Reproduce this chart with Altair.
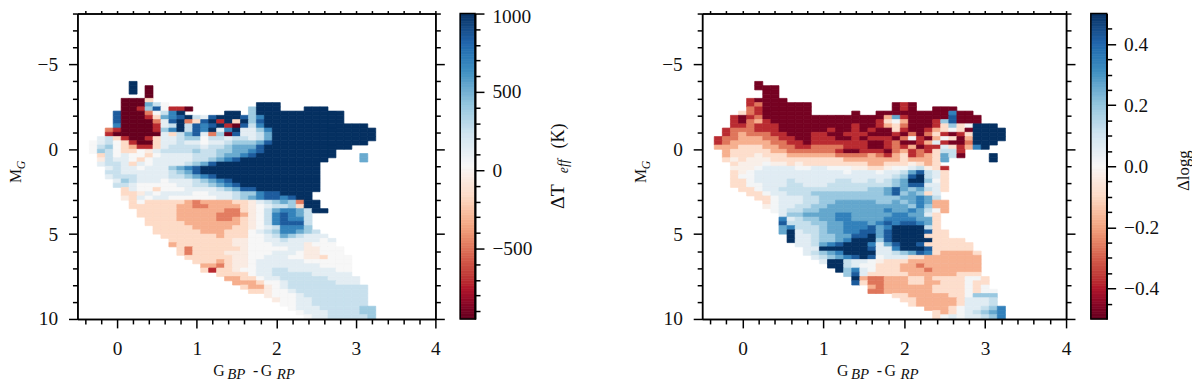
import altair as alt
import pandas as pd

FONT = "Liberation Serif"
COL_START, COL_STEP = -0.3, 0.1
ROW_START, ROW_STEP = -4.0, 0.25
RDBU = ["#67001f", "#b2182b", "#d6604d", "#f4a582", "#fddbc7", "#f7f7f7",
        "#d1e5f0", "#92c5de", "#4393c3", "#2166ac", "#053061"]

TEFF_LEVELS = {"A": -950, "B": -720, "C": -480, "D": -330, "E": -170, "F": -60, "0": 25,
               "1": 130, "2": 250, "3": 380, "4": 520, "5": 680, "6": 840, "7": 1000}
LOGG_LEVELS = {"A": -0.48, "B": -0.38, "C": -0.27, "D": -0.18, "E": -0.09, "F": -0.03, "0": 0.01,
               "1": 0.06, "2": 0.12, "3": 0.19, "4": 0.26, "5": 0.34, "6": 0.42, "7": 0.5}

# one string per 0.25 mag row, one character per 0.1 mag colour column
TEFF_ROWS = [
    ".....7....",
    ".....7.A..",
    ".....7.A..",
    ".......A..",
    "....AAAE..",
    "....AAA420 .......... .777......",
    "....AAB360 BBA....... 3777...777",
    "...6AAAC02 57.....77. 3777777777 77",
    "...6AAABE4 5672167776 3577777777 77",
    "...6AAAAC1 67CE67B7E7 3677777777 77",
    "...5AAAAB1 2726567BA6 2577777777 77777",
    "..CBAAAAB3 5726571571 1357777777 777777",
    "..BAAAAAA1 E2461C3A61 1247777777 777777",
    ".12EBAABE1 1233022122 1247777777 777777",
    "0120EBAAE1 1211011233 3467777777 77777",
    "0230EDBBE1 2222122344 4677777777 777",
    "0320EE0F12 2223223344 5677777777 7",
    ".E20100E01 1112223445 6777777777 7...4",
    ".F2110E011 1112234567 7777777777 ....4",
    ".1221E1011 1123467777 777777777.",
    "..12110111 3456777777 777777777.",
    "..22111111 2346777777 777777777.",
    "..12221111 2234567777 777777777.",
    "...1321110 1112345677 777777777.",
    "...2210000 0112234567 777777777.",
    "....E100E0 0011112346 677777777.",
    "....EEF101 1110011123 35667777..",
    "....FE1011 0000001123 45665677..",
    ".....E0EEE EEDCDDDDEE F12343C77.",
    ".....EEEEE EDDCCDDDDE F01223E77.",
    "......EEEE EDDDDDDCCE F024554277",
    "......EEEE EDDDDDCCCD F0256542..",
    ".......EEE EDDDDDCCDE F0256552..",
    ".......EEE EEDDDDDDDE F0256662..",
    "........EE EEEDDDDDEE F0125553..",
    "........EE EEEEDDDEEE 012355432.",
    ".........E EEEEEEDEEE 0012432111",
    ".......... EEEEEEEEFF 0011211110 1",
    ".......... DEEEEEEEFF 0001111F00 0",
    ".......... .ECEEEEEEF 0000011FF0 00",
    ".......... .ECEEEEFFF 0001110FF0 00",
    ".......... ..EEEEEEFF 0011100FFE 000",
    ".......... ...EEEDEFF 0111111000 000",
    ".......... ....DDCEFF 0111111110 000",
    ".......... ....EBEEF0 0112211111 100",
    ".......... ......EEEE 0112222211 111",
    ".......... .......DDE E011222222 1111",
    ".......... ........DD DE00122222 2111",
    ".......... .........E DDF0122222 22222",
    ".......... .......... EEF0012222 22222",
    ".......... .......... ..F0001222 22222",
    ".......... .......... ...F001122 22222",
    ".......... .......... ....001122 22222",
    ".......... .......... .....01112 222233",
    ".......... .......... ......0111 222233",
    ".......... .......... .......011 222223",
]

LOGG_ROWS = [
    ".....A....",
    ".....AAA..",
    "......AA..",
    "......AA..",
    "....BAAAA.",
    "....BCAAAA AA........ ..ABA.....",
    "....CBAAAA AA........ ..ABA..AAA",
    "...ECBAAAA AA.....A.. AAAAAAAAA5 AA",
    "..BABCAAAA AAAAAAAAAA AD4BAAAAA6 AAA",
    "..BACDBAAA AAAAAAAAAA BE0DAAAB36 AAA",
    "..BBCBBBAA AAAAAAABAA BDECAAABE3 E0777",
    ".BCCCBBBAA AAAABAABAB AAEBAABDE0 EA7777",
    ".BCDCCCBBA AABBAABBBA AABACACEBA BE7777",
    "BCCDDDCCBB AABBBAABAB BBAC0BAD0E AD7777",
    "BCDDDDDCCB BABBBBBBBA ABCAABD1BA AC777",
    "DDDEEEDDCC BBCCCCBBBA ABCBDABB1E BD57",
    ".DEEEEEDDC CCCCCBAABB BACDBCBE22 B",
    ".DEEEFEEED DDDDDCCCCD CBDEBCDE42 A...7",
    ".EFEFFFEEE EEEEEEDDDD DDDEDDDE4. ....7",
    "..EFFF0FFE FEEEEEEEED DEEEFEDE..",
    "..FFF01111 0011000FFE EF0012FEB.",
    "..EF011111 1111110111 0112462 1E.",
    "..E0011111 1111111111 1123672 1E.",
    "..EE011112 1111122112 1234773 0E.",
    "..EE001112 2111222222 2234661 1E.",
    "...EE01122 2222222223 3464342 1E",
    "....EE0112 2233333333 346343E1..",
    ".....EE011 1223333333 33344542..",
    "......E011 1223344444 3343454DD.",
    "......F011 2233444444 4444353DD.",
    ".......012 2334444444 45445420D.",
    "........13 3444455444 4455441E..",
    "........51 2334455444 4555544E..",
    "........62 2233445554 5656654E..",
    "........45 2223445556 4577772E..",
    "........47 1223445566 4677776EE.",
    ".........7 1123344667 467777EEE.",
    ".........7 1123345777 3677777EEE E",
    ".......... 1124567775 146776EEEE EE",
    ".......... .117777776 1157776EEE EE",
    ".......... .123457777 1123465EDD DDE",
    ".......... ..12345676 0111EEDDDD DDD",
    ".......... ...1772110 FEEEDDDDDD DDD",
    ".......... ....772100 EEEDDCDDDD DDD",
    ".......... .....73510 EEEDDDCDDD DDD",
    ".......... ......361E EEEEDDDDDD EEE",
    ".......... .......7DC CDDDEEDEEE E00E",
    ".......... .......6EC CDDDEEDDEE E0EE",
    ".......... .........D CDDDDDDEEE E0E0",
    ".......... .........C CDDDDDDEEE E0E00",
    ".......... .......... ..EEDDDDDE E0333",
    ".......... .......... ...EEDDDDD E1112",
    ".......... .......... ....EDDDDD E1112",
    ".......... .......... ......DDDE 011235",
    ".......... .......... .......EDE 012345",
    ".......... .......... .......E01 011235",
]

X_MAJOR = [0, 1, 2, 3, 4]
X_MINOR = [-0.4, -0.2, 0.2, 0.4, 0.6, 0.8, 1.2, 1.4, 1.6, 1.8, 2.2, 2.4, 2.6, 2.8, 3.2, 3.4, 3.6, 3.8]
Y_MAJOR = [-5, 0, 5, 10]
Y_MINOR = [-8, -7, -6, -4, -3, -2, -1, 1, 2, 3, 4, 6, 7, 8, 9]

TEFF_DOMAIN = [-950, 1000]
TEFF_MAJOR = [-500, 0, 500, 1000]
TEFF_MINOR = [-900, -800, -700, -600, -400, -300, -200, -100, 100, 200, 300, 400, 600, 700, 800, 900]
LOGG_DOMAIN = [-0.5, 0.5]
LOGG_MAJOR = [-0.4, -0.2, 0.0, 0.2, 0.4]
LOGG_MINOR = [-0.45, -0.35, -0.3, -0.25, -0.15, -0.1, -0.05, 0.05, 0.1, 0.15, 0.25, 0.3, 0.35, 0.45]

HEIGHT = 308
LW = 1.5


def cells(rows, levels):
    out = []
    for r, row in enumerate(rows):
        row = row.replace(" ", "")
        for c, ch in enumerate(row):
            if ch == ".":
                continue
            xc = COL_START + COL_STEP * c
            y0 = ROW_START + ROW_STEP * r
            out.append({"x0": xc - COL_STEP / 2, "x1": xc + COL_STEP / 2,
                        "y0": y0, "y1": y0 + ROW_STEP, "v": levels[ch]})
    return pd.DataFrame(out)


def axis(orient, values, size, labels=False, fmt=None, offset=None, pad=8):
    kw = dict(orient=orient, values=values, tickSize=size, labels=labels, title=None, grid=False,
              domain=True, domainColor="black", domainWidth=LW, tickColor="black", tickWidth=LW,
              labelFont=FONT, labelFontSize=19.5, labelColor="#111111", labelPadding=pad,
              labelFlush=False, labelOverlap=False, zindex=1)
    if fmt:
        kw["format"] = fmt
    if offset:
        kw["labelOffset"] = offset
    return alt.Axis(**kw)


def colour_scale(domain):
    lo, hi = domain
    stops = [lo + (hi - lo) * i / 10 for i in range(11)]
    return alt.Scale(domain=stops, range=RDBU, clamp=True)


def label(text, x, y, size=16, angle=0, italic=False, opacity=1):
    kw = dict(font=FONT, fontSize=size, angle=angle, align="left", baseline="alphabetic",
              color="#111111", opacity=opacity)
    if italic:
        kw["fontStyle"] = "italic"
    return alt.Chart(pd.DataFrame({"t": [text]})).mark_text(**kw).encode(
        text="t:N", x=alt.value(x), y=alt.value(y))


def heat(rows, levels, domain, width, xtitle_x):
    xs = alt.Scale(domain=[-0.5, 4], nice=False, zero=False)
    ys = alt.Scale(domain=[10, -8], nice=False, zero=False)
    cs = colour_scale(domain)
    cell = alt.Chart(cells(rows, levels)).mark_rect(strokeWidth=0.7).encode(
        x=alt.X("x0:Q", scale=xs, axis=axis("bottom", X_MAJOR, 9, True, pad=12)),
        x2="x1:Q",
        y=alt.Y("y0:Q", scale=ys, axis=axis("left", Y_MAJOR, 9, True, pad=11)),
        y2="y1:Q",
        color=alt.Color("v:Q", scale=cs, legend=None),
        stroke=alt.Stroke("v:Q", scale=cs, legend=None),
    )
    anchor = pd.DataFrame({"x": [0], "y": [0]})

    def ghost(xa, ya):
        return alt.Chart(anchor).mark_point(opacity=0).encode(
            x=alt.X("x:Q", scale=xs, axis=xa), y=alt.Y("y:Q", scale=ys, axis=ya))

    layers = [
        cell,
        ghost(axis("bottom", X_MINOR, 5), axis("left", Y_MINOR, 5)),
        ghost(axis("top", X_MAJOR, 3), axis("right", Y_MAJOR, 9)),
        ghost(axis("top", X_MINOR, 3), axis("right", Y_MINOR, 5)),
        label("G", xtitle_x, HEIGHT + 58),
        label("BP", xtitle_x + 14, HEIGHT + 61, 15, italic=True),
        label("-", xtitle_x + 40, HEIGHT + 58),
        label("G", xtitle_x + 48, HEIGHT + 58),
        label("RP", xtitle_x + 64, HEIGHT + 61, 15, italic=True),
        label("M", -57, 171, angle=270),
        label("G", -53, 157, 12, angle=270, italic=True),
    ]
    return alt.layer(*layers).resolve_axis(x="independent", y="independent").properties(
        width=width, height=HEIGHT)


def colorbar(domain, major, minor, width, ladder, fmt, titles, offset=None):
    ys = alt.Scale(domain=domain, nice=False, zero=False)
    xs = alt.Scale(domain=[0, 1], nice=False, zero=False)
    cs = colour_scale(domain)
    frame = pd.DataFrame({"lo": ladder[:-1], "hi": ladder[1:], "a": 0, "b": 1})
    bar = alt.Chart(frame).mark_rect(strokeWidth=0.7).encode(
        y=alt.Y("lo:Q", scale=ys, axis=axis("right", major, 9, True, fmt, offset)),
        y2="hi:Q",
        x=alt.X("a:Q", scale=xs, axis=None), x2="b:Q",
        color=alt.Color("lo:Q", scale=cs, legend=None),
        stroke=alt.Stroke("lo:Q", scale=cs, legend=None),
    )
    border = alt.Chart(pd.DataFrame({"lo": [domain[0]], "hi": [domain[1]], "a": [0], "b": [1]})).mark_rect(
        fillOpacity=0, stroke="black", strokeWidth=LW).encode(
        y=alt.Y("lo:Q", scale=ys, axis=axis("right", minor, 5)),
        y2="hi:Q", x=alt.X("a:Q", scale=xs, axis=None), x2="b:Q")
    return alt.layer(bar, border, *titles).resolve_axis(y="independent").properties(
        width=width, height=HEIGHT)


def ladder_of(domain, steps=120):
    return [domain[0] + (domain[1] - domain[0]) * i / steps for i in range(steps + 1)]


teff_titles = [
    label("ΔT", 105, 197, 20, angle=270),
    label("eff", 109, 161, 14, angle=270, italic=True),
    label("(K)", 105, 136, 18, angle=270),
    label(".", 156, 150, opacity=0),
]
logg_titles = [label("Δlogg", 99, 179, 17, angle=270)]

chart = alt.hconcat(
    heat(TEFF_ROWS, TEFF_LEVELS, TEFF_DOMAIN, 361, 137),
    colorbar(TEFF_DOMAIN, TEFF_MAJOR, TEFF_MINOR, 15, ladder_of(TEFF_DOMAIN), "d", teff_titles,
             {"condition": {"test": "datum.value == 1000", "value": 3}, "value": 0}),
    heat(LOGG_ROWS, LOGG_LEVELS, LOGG_DOMAIN, 367, 136),
    colorbar(LOGG_DOMAIN, LOGG_MAJOR, LOGG_MINOR, 16, ladder_of(LOGG_DOMAIN), ".1f", logg_titles),
    spacing=14,
).resolve_scale(color="independent", stroke="independent").properties(
    padding={"left": 0, "top": -3, "right": 0, "bottom": 0}
).configure_view(stroke=None)

chart.save("out.html", embed_options={"renderer": "svg", "actions": False})
